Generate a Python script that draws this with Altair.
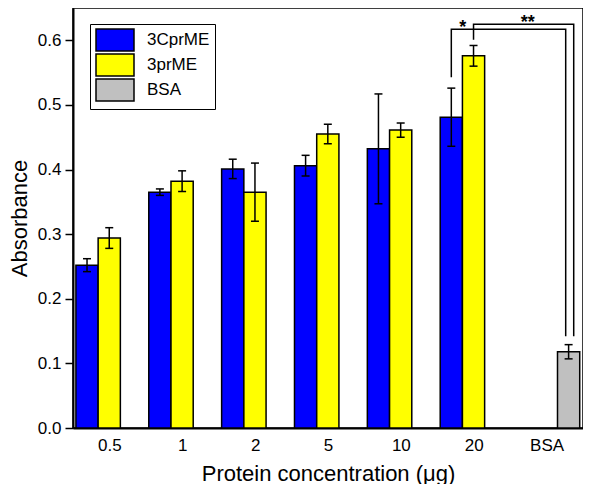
import altair as alt
import pandas as pd

# ---- data ----
categories = ["0.5", "1", "2", "5", "10", "20", "BSA"]
series = ["3CprME", "3prME", "BSA"]
colors = ["#0000FF", "#FFFF00", "#C0C0C0"]

cprme_mean = [0.252, 0.365, 0.401, 0.406, 0.432, 0.481]
cprme_err = [0.010, 0.005, 0.015, 0.016, 0.085, 0.045]
prme_mean = [0.294, 0.382, 0.365, 0.455, 0.461, 0.576]
prme_err = [0.016, 0.016, 0.045, 0.015, 0.011, 0.016]
bsa_mean = [0.118]
bsa_err = [0.011]

# significance brackets: compared (category, series) pairs and their levels
sig_labels = ["*", "**"]
sig_from = [(5, 0), (5, 1)]
sig_to = [(6, 2), (6, 2)]
sig_to_shift = [-0.04, 0.07]
sig_y_start = [0.543, 0.601]
sig_y_top = [0.617, 0.625]
sig_y_end = [0.142, 0.142]
sig_label_x = [4.85, 5.74]

# ---- layout params ----
BAR_W = 0.305
START = -0.46

rows = []
for i, (m, e) in enumerate(zip(cprme_mean, cprme_err)):
    rows.append(dict(cat=i, s=0, series=series[0], mean=m, err=e))
for i, (m, e) in enumerate(zip(prme_mean, prme_err)):
    rows.append(dict(cat=i, s=1, series=series[1], mean=m, err=e))
for m, e in zip(bsa_mean, bsa_err):
    rows.append(dict(cat=6, s=2, series=series[2], mean=m, err=e))
df = pd.DataFrame(rows)


def center(cat, s):
    return cat + START + s * BAR_W + BAR_W / 2


brows = []
for k in range(len(sig_labels)):
    xa = center(*sig_from[k])
    xb = center(*sig_to[k]) + sig_to_shift[k]
    pts = [(xa, sig_y_start[k]), (xa, sig_y_top[k]), (xb, sig_y_top[k]), (xb, sig_y_end[k])]
    for o, (px, py) in enumerate(pts):
        brows.append(dict(g=k, o=o, bx=px, by=py))
bdf = pd.DataFrame(brows)
ldf = pd.DataFrame(dict(lab=sig_labels, lx=sig_label_x, ly=sig_y_top))

FONT = "Liberation Sans"
label_expr = "[" + ",".join("'%s'" % c for c in categories) + "][datum.value]"

xscale = alt.Scale(domain=[-0.5, 6.5], nice=False, zero=False)
yscale = alt.Scale(domain=[0, 0.65], nice=False)

xaxis = alt.Axis(
    values=list(range(len(categories))), labelExpr=label_expr, ticks=False,
    grid=False, labelFontSize=17, labelPadding=9, title="Protein concentration  (μg)",
    titleFontSize=22, titleFontWeight="normal", titlePadding=10, labelFont=FONT,
    titleFont=FONT, domainColor="black", domainWidth=2, labelColor="black", titleColor="black",
)
yaxis = alt.Axis(
    values=[round(v * 0.05, 2) for v in range(0, 13)],
    labelExpr="round(datum.value*100) % 10 == 0 ? format(datum.value, '.1f') : ''",
    tickSize={"condition": {"test": "round(datum.value*100) % 10 != 0", "value": 4}, "value": 8},
    tickColor="black", tickWidth=1.5, grid=False, labelFontSize=17, labelPadding=4,
    title="Absorbance", titleFontSize=22, titleFontWeight="normal", titlePadding=6,
    labelFont=FONT, titleFont=FONT, domainColor="black", domainWidth=2,
    labelColor="black", titleColor="black",
)

base = alt.Chart(df).transform_calculate(
    x0=f"datum.cat + ({START}) + datum.s * {BAR_W}",
    x1=f"datum.cat + ({START}) + (datum.s + 1) * {BAR_W}",
    xc=f"datum.cat + ({START}) + (datum.s + 0.5) * {BAR_W}",
    lo="datum.mean - datum.err",
    hi="datum.mean + datum.err",
)

bars = base.mark_bar(stroke="black", strokeWidth=1.5).encode(
    x=alt.X("x0:Q", scale=xscale, axis=xaxis),
    x2="x1:Q",
    y=alt.Y("mean:Q", scale=yscale, axis=yaxis),
    y2=alt.datum(0),
    color=alt.Color(
        "series:N",
        scale=alt.Scale(domain=series, range=colors),
        legend=alt.Legend(
            title=None, orient="none", legendX=17, legendY=16,
            symbolType="M-1.9,-1.1H1.9V1.1H-1.9Z", symbolSize=400,
            symbolStrokeColor="black", symbolStrokeWidth=1.5, symbolOpacity=1,
            symbolOffset=9,
            labelFontSize=17, labelFont=FONT, labelColor="black", labelOffset=21,
            strokeColor="black", fillColor="white", padding=5, rowPadding=-8,
        ),
    ),
)

err_rule = base.mark_rule(color="black", strokeWidth=1.5).encode(
    x="xc:Q", y="lo:Q", y2="hi:Q"
)
cap_lo = base.mark_tick(orient="horizontal", size=8, thickness=1.5, color="black", opacity=1).encode(
    x="xc:Q", y="lo:Q"
)
cap_hi = base.mark_tick(orient="horizontal", size=8, thickness=1.5, color="black", opacity=1).encode(
    x="xc:Q", y="hi:Q"
)

brackets = alt.Chart(bdf).mark_line(color="black", strokeWidth=1.5).encode(
    x="bx:Q", y="by:Q", detail="g:N", order="o:Q"
)
labels = alt.Chart(ldf).mark_text(
    fontSize=18, fontWeight="bold", font=FONT, color="black", baseline="alphabetic", dy=4
).encode(x="lx:Q", y="ly:Q", text="lab:N")

chart = alt.layer(bars, err_rule, cap_lo, cap_hi, brackets, labels).properties(
    width=510, height=420, padding=0
).configure_view(stroke="black", strokeWidth=1.5)

chart.save("out.html", embed_options={"renderer": "svg", "actions": False})
